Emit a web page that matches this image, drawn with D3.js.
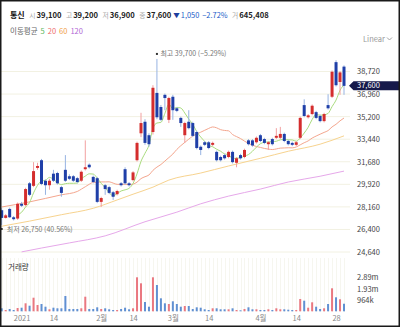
<!DOCTYPE html>
<html>
<head>
<meta charset="utf-8">
<script src="https://cdn.jsdelivr.net/npm/d3@7"></script>
<style>
  html, body { margin: 0; padding: 0; background: #fff; }
  svg { display: block; font-family: "Noto Sans CJK KR", "Noto Sans", sans-serif; }
</style>
</head>
<body>
<svg id="chart" width="400" height="327"></svg>
<script>
// ---- daily data: 통신 (2020-12-23 ~ 2021-04-30) ----
const dates = [
  "2020-12-23","2020-12-24","2020-12-28","2020-12-29","2020-12-30",
  "2021-01-04","2021-01-05","2021-01-06","2021-01-07","2021-01-08","2021-01-11","2021-01-12","2021-01-13","2021-01-14","2021-01-15",
  "2021-01-18","2021-01-19","2021-01-20","2021-01-21","2021-01-22","2021-01-25","2021-01-26","2021-01-27","2021-01-28","2021-01-29",
  "2021-02-01","2021-02-02","2021-02-03","2021-02-04","2021-02-05","2021-02-08","2021-02-09","2021-02-10","2021-02-15","2021-02-16",
  "2021-02-17","2021-02-18","2021-02-19","2021-02-22","2021-02-23","2021-02-24","2021-02-25","2021-02-26",
  "2021-03-02","2021-03-03","2021-03-04","2021-03-05","2021-03-08","2021-03-09","2021-03-10","2021-03-11","2021-03-12","2021-03-15",
  "2021-03-16","2021-03-17","2021-03-18","2021-03-19","2021-03-22","2021-03-23","2021-03-24","2021-03-25","2021-03-26","2021-03-29",
  "2021-03-30","2021-03-31",
  "2021-04-01","2021-04-02","2021-04-05","2021-04-06","2021-04-07","2021-04-08","2021-04-09","2021-04-12","2021-04-13","2021-04-14",
  "2021-04-15","2021-04-16","2021-04-19","2021-04-20","2021-04-21","2021-04-22","2021-04-23","2021-04-26","2021-04-27","2021-04-28",
  "2021-04-29","2021-04-30"
];
const opens = [
  27900,27300,28000,27350,27250, 28400,28300,30000,29800,31200,31800,30200,29850,30750,30800,
  29700,31050,30550,30550,30400,30200,31100,31450,30500,30400,
  28550,29850,29700,29300,29150,30000,31100,30000,30250,31800,
  33900,34800,33750,34000,37050,35950,36900,34950,
  36750,35850,35100,33750,34800,34700,34000,32850,33200,33200,
  33000,32450,32050,32200,32050,32450,31600,32200,32050,33350,
  33350,33200,
  33750,33450,33050,33450,33550,33550,33850,33300,33150,33000,
  33550,36100,35150,35400,35550,35250,34850,36100,36750,39450,
  37900,39100
];
const highs = [
  28050,27600,28100,27450,28500, 28550,29650,30100,31650,31600,31900,30300,30350,31050,30900,
  29800,32200,30700,30650,30500,31000,33350,31550,30600,30500,
  28950,29950,29800,29400,29500,30100,31250,30100,30950,33250,
  35500,35000,33900,37650,39700,36100,37000,36750,
  36900,35950,35200,34800,35700,34800,34100,32950,33300,33300,
  33250,32550,32150,32300,32550,32550,32050,32300,32700,33450,
  33450,33650,
  33850,33550,33300,33550,34300,34400,33950,33400,33250,33300,
  35200,36550,35400,36150,35650,35350,35500,36950,38800,39600,
  38750,39200
];
const lows = [
  26750,27250,27300,27100,27150, 28150,28200,29000,29700,31050,29850,29100,29500,30100,29900,
  28950,30100,30250,30100,30000,30100,31000,31150,30000,28450,
  28150,29100,29150,28700,29050,29750,29900,29750,30150,31700,
  33600,33000,32850,33800,35000,34850,35700,34700,
  34950,35550,34400,33150,34200,33600,32650,32200,32900,32650,
  32900,31700,31700,31850,31950,31550,31250,31850,31950,32950,
  32850,33100,
  33200,33050,32600,32950,33450,33450,33200,32950,32900,32900,
  33450,35150,35050,35300,35000,34750,34750,35750,36650,37550,
  36900,36900
];
const closes = [
  27300,27500,27350,27200,28400, 28250,29550,29100,30950,31350,29950,29850,30200,30200,30000,
  29250,30200,30350,30200,30100,30900,31250,31250,30100,28550,
  28850,29550,29250,28950,29400,29850,30000,29850,30850,33150,
  34700,33150,33050,37450,35150,34950,36650,36650,
  35700,35650,34700,34700,34300,33700,32750,32600,33000,32750,
  33150,31800,31800,31950,32450,31650,31950,31950,32600,33050,
  32950,33550,
  33300,33150,33200,33050,33700,33850,33300,33050,33000,33200,
  35100,35250,35300,36050,35100,34850,35400,35850,38700,37650,
  38650,37600
];
const volumes = [
  256000,111000,196000,111000,281000, 307000,682000,478000,1160000,537000,623000,392000,171000,307000,256000,
  256000,1305000,196000,196000,196000,256000,1245000,196000,196000,341000,
  196000,256000,171000,111000,111000,196000,307000,171000,256000,2900000,
  2388000,793000,392000,2900000,2243000,1109000,682000,623000,
  853000,623000,392000,452000,452000,196000,341000,307000,171000,111000,
  256000,256000,171000,171000,171000,256000,111000,85000,196000,341000,
  171000,171000,
  111000,111000,171000,111000,256000,171000,171000,136000,111000,111000,
  1049000,904000,307000,768000,392000,196000,256000,623000,1962000,1194000,
  1024000,645408
];

// 20-day average before enough closes are on the chart
const ma20Lead = [["2020-12-23", 28150], ["2021-01-06", 28550], ["2021-01-18", 29100]];
// longer averages (60 / 120 days)
const ma60 = [
  ["2020-12-23", 26650], ["2021-01-06", 27050], ["2021-01-18", 27550], ["2021-01-28", 28050],
  ["2021-02-05", 28700], ["2021-02-15", 29150], ["2021-02-22", 29700], ["2021-02-26", 30250],
  ["2021-03-11", 30800], ["2021-03-22", 31350], ["2021-04-01", 31950], ["2021-04-12", 32500],
  ["2021-04-22", 33050], ["2021-04-30", 33700]
];
const ma120 = [
  ["2021-01-04", 24650], ["2021-01-11", 24950], ["2021-01-20", 25350], ["2021-02-02", 25900],
  ["2021-02-18", 27000], ["2021-03-03", 27750], ["2021-03-11", 28400], ["2021-03-22", 29000],
  ["2021-04-01", 29550], ["2021-04-12", 30100], ["2021-04-22", 30550], ["2021-04-30", 30950]
];

const priceTicks = [24640, 26400, 28160, 29920, 31680, 33440, 35200, 36960, 38720];
const volumeTicks = [964000, 1928000, 2892000];
const volumeTickLabels = ["964k", "1.93m", "2.89m"];
const dateTicks = ["2021-01-04","2021-01-14","2021-02-01","2021-02-15","2021-03-02","2021-03-15","2021-04-01","2021-04-14","2021-04-28"];
const dateTickLabels = ["2021","14","2월","14","3월","14","4월","14","28"];

const maPeriods = ["5", "20", "60", "120"];
const maLegendColors = ["#5cb85c", "#ee6b6b", "#f0a048", "#b066d4"];
const maLineColors = ["#a9dc7e", "#f4a68e", "#f7d38f", "#e6a8ea"];

// ---- scales ----
const svg = d3.select("#chart");
const x = d3.scalePoint().domain(dates).range([1.7, 344]);
const y = d3.scaleLinear().domain([24407, 40397]).range([255, 50]);
const yv = d3.scaleLinear().domain([0, 4820000]).range([311.3, 254.8]);

const candles = dates.map((d, i) => ({
  date: d, o: opens[i], h: highs[i], l: lows[i], c: closes[i], v: volumes[i], up: closes[i] >= opens[i]
}));
const UP = "#d42d2d", DOWN = "#1f3fa8", UP_WICK = "#f2a0a0", DOWN_WICK = "#97b3e2";
const VOL_UP = "#ea7880", VOL_DOWN = "#6090d2";
const fmt = d3.format(",");

svg.append("defs").append("clipPath").attr("id", "pricePane")
  .append("rect").attr("x", 0).attr("y", 48).attr("width", 350).attr("height", 208);

// ---- grid ----
svg.append("g").selectAll("line").data(priceTicks).join("line")
  .attr("x1", 0).attr("x2", 350)
  .attr("y1", d => y(d)).attr("y2", d => y(d))
  .attr("stroke", "#f2f1e2").attr("stroke-width", 1);
svg.append("g").selectAll("line").data(dates).join("line")
  .attr("x1", d => Math.round(x(d)) + 0.5).attr("x2", d => Math.round(x(d)) + 0.5)
  .attr("y1", 258).attr("y2", 312)
  .attr("stroke", "#f6f6ef").attr("stroke-width", 1);

// ---- moving averages ----
const pane = svg.append("g").attr("clip-path", "url(#pricePane)");
const ma5 = candles.map((d, i) => i < 4 ? null : [d.date, d3.mean(closes.slice(i - 4, i + 1))]).filter(Boolean);
const ma20 = ma20Lead.concat(
  candles.map((d, i) => i < 19 ? null : [d.date, d3.mean(closes.slice(i - 19, i + 1))]).filter(Boolean)
);
const maLine = d3.line().x(d => x(d[0])).y(d => y(d[1])).curve(d3.curveMonotoneX);
[ma120, ma60, ma20, ma5].forEach((series, j) => {
  pane.append("path").datum(series)
    .attr("d", maLine)
    .attr("fill", "none")
    .attr("stroke", maLineColors[3 - j])
    .attr("stroke-width", 1);
});

// ---- candles ----
const cg = pane.append("g");
cg.selectAll("line").data(candles).join("line")
  .attr("x1", d => x(d.date)).attr("x2", d => x(d.date))
  .attr("y1", d => y(d.h)).attr("y2", d => y(d.l))
  .attr("stroke", d => d.up ? UP_WICK : DOWN_WICK).attr("stroke-width", 1);
cg.selectAll("rect").data(candles).join("rect")
  .attr("x", d => x(d.date) - 1.5).attr("width", 3)
  .attr("y", d => y(Math.max(d.o, d.c)))
  .attr("height", d => Math.max(1, Math.abs(y(d.o) - y(d.c))))
  .attr("fill", d => d.up ? UP : DOWN);

// ---- high / low markers ----
const last = candles[candles.length - 1];
const hi = d3.maxIndex(highs), lo = d3.minIndex(lows);
const pct = v => d3.format(".2f")(v) + "%";
svg.append("rect").attr("x", x(dates[hi]) - 1).attr("y", y(highs[hi]) - 6).attr("width", 2).attr("height", 2).attr("fill", "#333");
svg.append("text").attr("x", x(dates[hi]) + 3.5).attr("y", y(highs[hi]) - 2.5)
  .attr("font-size", 7).attr("fill", "#777")
  .text(`최고 ${fmt(highs[hi])} (${pct((last.c / highs[hi] - 1) * 100)})`);
svg.append("rect").attr("x", x(dates[lo]) - 1).attr("y", y(lows[lo]) + 3).attr("width", 2).attr("height", 2).attr("fill", "#333");
svg.append("text").attr("x", x(dates[lo]) + 5).attr("y", y(lows[lo]) + 7)
  .attr("font-size", 7).attr("fill", "#777")
  .text(`최저 ${fmt(lows[lo])} (${pct((last.c / lows[lo] - 1) * 100)})`);

// ---- volume ----
svg.append("g").selectAll("rect").data(candles).join("rect")
  .attr("x", d => x(d.date) - 1).attr("width", 2)
  .attr("y", d => yv(d.v)).attr("height", d => yv(0) - yv(d.v))
  .attr("fill", d => d.up ? VOL_UP : VOL_DOWN);
svg.append("text").attr("x", 8).attr("y", 269.5).attr("font-size", 7.5).attr("fill", "#333").text("거래량");

// ---- axes ----
const styleAxis = (g, color) => {
  g.select(".domain").remove();
  g.selectAll("text").attr("fill", color).attr("font-size", 7.5)
    .attr("font-family", '"Noto Sans CJK KR", "Noto Sans", sans-serif');
};
svg.append("g").attr("transform", "translate(355,0)")
  .call(d3.axisRight(y).tickValues(priceTicks).tickFormat(fmt).tickSize(0).tickPadding(2))
  .call(g => styleAxis(g, "#444"));
svg.append("g").attr("transform", "translate(355,0)")
  .call(d3.axisRight(yv).tickValues(volumeTicks).tickFormat((d, i) => volumeTickLabels[i]).tickSize(0).tickPadding(2))
  .call(g => styleAxis(g, "#444"));
svg.append("g").attr("transform", "translate(0,313)")
  .call(d3.axisBottom(x).tickValues(dateTicks).tickFormat((d, i) => dateTickLabels[i]).tickSize(0).tickPadding(3))
  .call(g => styleAxis(g, "#888"));

// ---- last price tag ----
const yc = y(last.c);
svg.append("path")
  .attr("d", `M349,${yc} L353.5,${yc - 4.5} L400,${yc - 4.5} L400,${yc + 4.5} L353.5,${yc + 4.5} Z`)
  .attr("fill", "#16194a");
svg.append("text").attr("x", 357).attr("y", yc).attr("dy", "0.35em")
  .attr("font-size", 7.5).attr("fill", "#fff").text(fmt(last.c));

// ---- header: laid out left to right by measured widths ----
const prev = candles[candles.length - 2];
const change = last.c - prev.c;
const head = svg.append("g");
let cursor = 10;
const put = (t, opts) => {
  cursor += opts.gap || 0;
  const node = head.append("text").attr("x", cursor).attr("y", 17.5)
    .attr("font-size", opts.size).attr("fill", opts.color)
    .attr("font-weight", opts.bold ? "bold" : null).text(t);
  cursor += node.node().getComputedTextLength();
};
const LABEL = { size: 6.8, color: "#aaa", gap: 4.5 };
const VALUE = { size: 7.6, color: "#222", bold: true, gap: 1 };
put("통신", { size: 8, color: "#111", bold: true });
put("시", LABEL); put(fmt(last.o), VALUE);
put("고", LABEL); put(fmt(last.h), VALUE);
put("저", LABEL); put(fmt(last.l), VALUE);
put("종", LABEL); put(fmt(last.c), VALUE);
put(change < 0 ? "▼" : "▲", { size: 6.5, color: "#1d3f9e", gap: 2 });
put(fmt(Math.abs(change)), { size: 7.4, color: "#1a5bc8", gap: 1 });
put(d3.format(".2f")(change / prev.c * 100) + "%", { size: 7.4, color: "#1a5bc8", gap: 3 });
put("거", LABEL); put(fmt(last.v), VALUE);

// moving-average legend
const leg = svg.append("text").attr("x", 10).attr("y", 33.5).attr("font-size", 7.5);
leg.append("tspan").attr("fill", "#666").text("이동평균");
maPeriods.forEach((p, i) => leg.append("tspan").attr("dx", 3).attr("fill", maLegendColors[i]).text(p));

// scale switch
svg.append("text").attr("x", 363).attr("y", 41.5).attr("font-size", 7.5).attr("fill", "#999").text("Linear");
svg.append("path").attr("d", "M387,37.5 L389.5,40 L392,37.5").attr("fill", "none").attr("stroke", "#999").attr("stroke-width", 0.9);

// frame
svg.append("rect").attr("x", 0.75).attr("y", 0.75).attr("width", 398.5).attr("height", 325.5)
  .attr("fill", "none").attr("stroke", "#1a1a1a").attr("stroke-width", 1.5);
</script>
</body>
</html>
